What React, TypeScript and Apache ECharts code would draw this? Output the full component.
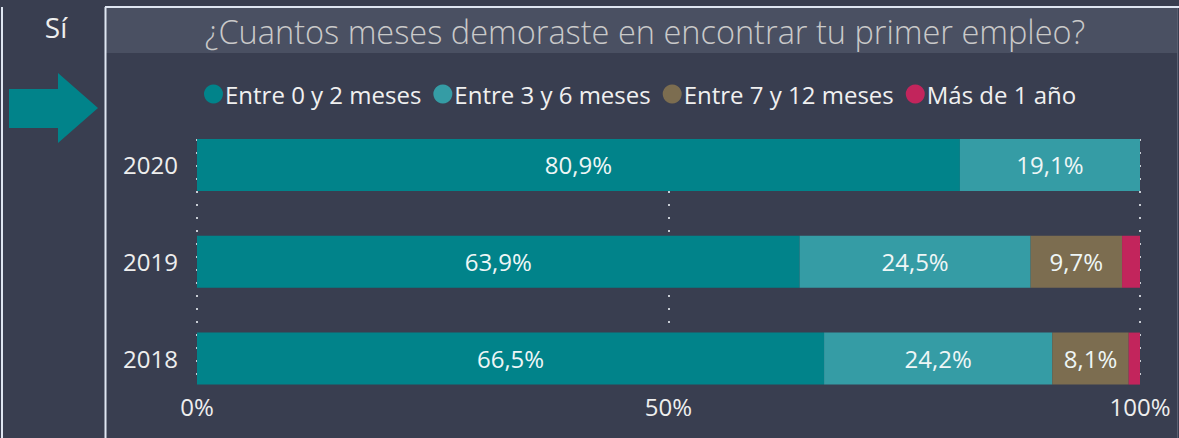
import React, { useEffect, useRef } from "react";
import * as echarts from "echarts";

const years = ["2018", "2019", "2020"];
const seriesNames = ["Entre 0 y 2 meses", "Entre 3 y 6 meses", "Entre 7 y 12 meses", "Más de 1 año"];
const entre0y2 = [66.5, 63.9, 80.9];
const entre3y6 = [24.2, 24.5, 19.1];
const entre7y12 = [8.1, 9.7, 0];
const masDe1Anio = [1.2, 1.9, 0];
const seriesValues = [entre0y2, entre3y6, entre7y12, masDe1Anio];
const colors = ["#01838a", "#359ca5", "#7c6d50", "#c2255c"];
const titleText = "¿Cuantos meses demoraste en encontrar tu primer empleo?";
const sideLabel = "Sí";

const FONT = "'Open Sans', 'Noto Sans', sans-serif";

export default function App() {
  const ref = useRef<HTMLDivElement>(null);
  useEffect(() => {
    if (!ref.current) return;
    const chart = echarts.init(ref.current, undefined, { renderer: "svg" });
    const option: any = {
      animation: false,
      backgroundColor: "#393e50",
      textStyle: { fontFamily: FONT },
      graphic: [
        { type: "rect", z: -10, shape: { x: 106, y: 8, width: 1071, height: 45 }, style: { fill: "#4a5062" } },
        { type: "line", shape: { x1: 2, y1: 7, x2: 2, y2: 438 }, style: { stroke: "#dfe6f2", lineWidth: 2 } },
        { type: "line", shape: { x1: 105.5, y1: 7, x2: 105.5, y2: 438 }, style: { stroke: "#dfe6f2", lineWidth: 2 } },
        { type: "line", shape: { x1: 105, y1: 7, x2: 1179, y2: 7 }, style: { stroke: "#dfe6f2", lineWidth: 2 } },
        { type: "line", shape: { x1: 1177.5, y1: 8, x2: 1177.5, y2: 438 }, style: { stroke: "#5a6072", lineWidth: 1 } },
        {
          type: "polygon",
          shape: { points: [[9, 89], [58, 89], [58, 73], [98, 108], [58, 143], [58, 128], [9, 128]] },
          style: { fill: "#01838a" },
        },
        {
          type: "text",
          x: 56, y: 27,
          style: { text: sideLabel, fill: "#eeeeee", font: `28px ${FONT}`, align: "center", verticalAlign: "middle" },
        },
        {
          type: "text",
          x: 645, y: 31,
          style: { text: titleText, fill: "#c9c9c9", font: `300 32.5px ${FONT}`, align: "center", verticalAlign: "middle" },
        },
      ],
      legend: {
        left: 199,
        top: 77,
        icon: "circle",
        itemWidth: 19,
        itemHeight: 19,
        itemGap: 12,
        textStyle: { color: "#f0f0f0", fontSize: 24, fontFamily: FONT, padding: [0, 0, 0, -3] },
        data: seriesNames,
      },
      grid: [
        { left: 197, right: 39, top: 116.5, bottom: 31 },
        { left: 197, right: 39, top: 139, bottom: 54 },
      ],
      xAxis: [
        {
          gridIndex: 0, type: "value", min: 0, max: 100,
          axisLabel: { show: false }, splitLine: { show: false }, axisLine: { show: false }, axisTick: { show: false },
        },
        {
          gridIndex: 1, type: "value", min: 0, max: 100, interval: 50,
          axisLabel: { color: "#eeeeee", fontSize: 24, fontFamily: FONT, margin: 10, formatter: (v: number) => `${v}%` },
          splitLine: { show: true, lineStyle: { color: "#c8ccd4", width: 2, type: [2, 11] } },
          axisLine: { show: false }, axisTick: { show: false },
        },
      ],
      yAxis: [
        {
          gridIndex: 0, type: "category", data: years,
          axisLabel: { color: "#eeeeee", fontSize: 24, fontFamily: FONT, margin: 19 },
          axisLine: { show: false }, axisTick: { show: false }, splitLine: { show: false },
        },
        { gridIndex: 1, type: "value", min: 0, max: 1, show: false, splitLine: { show: false } },
      ],
      series: seriesNames.map((name, i) => ({
        name,
        type: "bar",
        stack: "total",
        xAxisIndex: 0,
        yAxisIndex: 0,
        barWidth: 52,
        itemStyle: { color: colors[i] },
        z: 5,
        label: {
          show: true,
          position: "inside",
          color: "#eef6f6",
          fontSize: 24,
          fontFamily: FONT,
          formatter: (p: any) => (p.value >= 5 ? `${p.value.toFixed(1).replace(".", ",")}%` : ""),
        },
        data: seriesValues[i],
      })),
    };
    chart.setOption(option);
    return () => chart.dispose();
  }, []);
  return <div ref={ref} style={{ position: "fixed", left: 0, top: 0, width: 1179, height: 438 }} />;
}
